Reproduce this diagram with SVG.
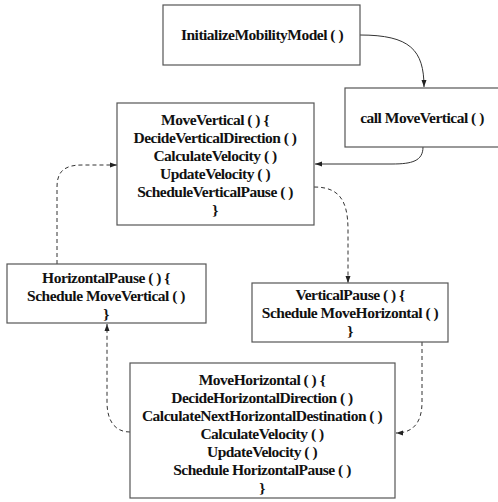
<svg xmlns="http://www.w3.org/2000/svg" width="498" height="502" viewBox="0 0 498 502">
  <style>
    .box { fill: #ffffff; stroke: #555555; stroke-width: 1.2; }
    .t { font-family: "Liberation Serif", "Times New Roman", serif; font-weight: bold; font-size: 15.5px; letter-spacing: -0.5px; fill: #111111; text-anchor: middle; }
    .solid { fill: none; stroke: #333333; stroke-width: 1; }
    .dash { fill: none; stroke: #333333; stroke-width: 1; stroke-dasharray: 4 3; }
  </style>
  <defs>
    <marker id="arrow" markerUnits="userSpaceOnUse" markerWidth="8" markerHeight="8" viewBox="0 0 8 8" refX="7" refY="4" orient="auto">
      <path d="M0,1.5 L7,4 L0,6.5 Z" fill="#222222"/>
    </marker>
  </defs>

  <rect width="498" height="502" fill="#ffffff"/>

  <g id="connectors">
    <path class="solid" d="M360,35 C410,35 424,50 424,87" marker-end="url(#arrow)"/>
    <path class="solid" d="M423,147 C423,161 412,164 392,164 L315,164" marker-end="url(#arrow)"/>
    <path class="dash" d="M57,264 L57,187 C57,171 65,165 82,165 L117,165" marker-end="url(#arrow)"/>
    <path class="dash" d="M314,187 C339,187 348,200 348,230 L348,283" marker-end="url(#arrow)"/>
    <path class="dash" d="M422,342 L422,402 C422,425 411,433 396,433" marker-end="url(#arrow)"/>
    <path class="dash" d="M130,432 C115,432 107,421 107,402 L107,324" marker-end="url(#arrow)"/>
  </g>

  <g id="init">
    <rect class="box" x="163" y="5" width="197" height="60"/>
    <text class="t" x="262" y="40">InitializeMobilityModel ( )</text>
  </g>

  <g id="callMoveVertical">
    <rect class="box" x="345" y="88" width="160" height="59"/>
    <text class="t" x="422" y="123">call MoveVertical ( )</text>
  </g>

  <g id="moveVertical">
    <rect class="box" x="117" y="103" width="197" height="122"/>
    <text class="t" x="215" y="125">MoveVertical ( ) {</text>
    <text class="t" x="215" y="143">DecideVerticalDirection ( )</text>
    <text class="t" x="215" y="161">CalculateVelocity ( )</text>
    <text class="t" x="215" y="179">UpdateVelocity ( )</text>
    <text class="t" x="215" y="197">ScheduleVerticalPause ( )</text>
    <text class="t" x="215" y="215">}</text>
  </g>

  <g id="horizontalPause">
    <rect class="box" x="7" y="264" width="199" height="59"/>
    <text class="t" x="106" y="283">HorizontalPause ( ) {</text>
    <text class="t" x="106" y="301">Schedule MoveVertical ( )</text>
    <text class="t" x="106" y="319">}</text>
  </g>

  <g id="verticalPause">
    <rect class="box" x="252" y="283" width="196" height="59"/>
    <text class="t" x="350" y="300">VerticalPause ( ) {</text>
    <text class="t" x="350" y="318">Schedule MoveHorizontal ( )</text>
    <text class="t" x="350" y="336">}</text>
  </g>

  <g id="moveHorizontal">
    <rect class="box" x="130" y="363" width="265" height="135"/>
    <text class="t" x="262" y="385">MoveHorizontal ( ) {</text>
    <text class="t" x="262" y="403">DecideHorizontalDirection ( )</text>
    <text class="t" x="262" y="421">CalculateNextHorizontalDestination ( )</text>
    <text class="t" x="262" y="439">CalculateVelocity ( )</text>
    <text class="t" x="262" y="457">UpdateVelocity ( )</text>
    <text class="t" x="262" y="475">Schedule HorizontalPause ( )</text>
    <text class="t" x="262" y="493">}</text>
  </g>
</svg>
